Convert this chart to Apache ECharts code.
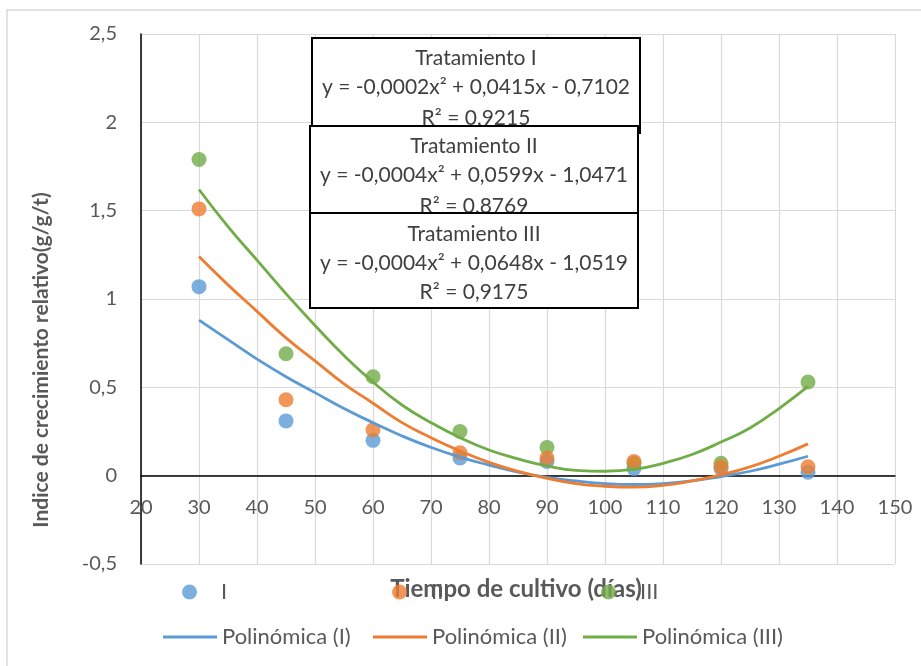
<!DOCTYPE html>
<html><head><meta charset="utf-8">
<script src="https://cdn.jsdelivr.net/npm/echarts@6/dist/echarts.min.js"></script>
<style>html,body{margin:0;padding:0;background:#fff}#c{width:921px;height:666px}</style>
</head><body><div id="c"></div>
<script>
// Observed points (x = días, y = índice)
const daysObs = [30, 45, 60, 75, 90, 105, 120, 135];
const valsI   = [1.07, 0.31, 0.20, 0.10, 0.08, 0.04, 0.04, 0.02];
const valsII  = [1.51, 0.43, 0.26, 0.13, 0.10, 0.08, 0.05, 0.05];
const valsIII = [1.79, 0.69, 0.56, 0.25, 0.16, 0.07, 0.07, 0.53];
// Trendline values
const daysTrend = [30, 35, 40, 45, 50, 55, 60, 65, 70, 75, 80, 85, 90, 95, 100, 105, 110, 115, 120, 125, 130, 135];
const trendI   = [0.88, 0.77, 0.66, 0.56, 0.47, 0.38, 0.30, 0.225, 0.16, 0.105, 0.06, 0.02, -0.01, -0.03, -0.045, -0.05, -0.045, -0.03, -0.005, 0.025, 0.065, 0.11];
const trendII  = [1.24, 1.08, 0.93, 0.78, 0.65, 0.52, 0.41, 0.30, 0.215, 0.14, 0.075, 0.025, -0.015, -0.045, -0.06, -0.065, -0.055, -0.03, 0.005, 0.05, 0.11, 0.18];
const trendIII = [1.62, 1.41, 1.22, 1.03, 0.85, 0.68, 0.53, 0.40, 0.30, 0.215, 0.145, 0.095, 0.055, 0.03, 0.025, 0.035, 0.07, 0.12, 0.19, 0.27, 0.38, 0.505];
const seriesNames = ['I', 'II', 'III'];
const trendNames = ['Polinómica (I)', 'Polinómica (II)', 'Polinómica (III)'];
const boxTexts = [
  ['Tratamiento I', 'y = -0,0002x² + 0,0415x - 0,7102', 'R² = 0,9215'],
  ['Tratamiento II', 'y = -0,0004x² + 0,0599x - 1,0471', 'R² = 0,8769'],
  ['Tratamiento III', 'y = -0,0004x² + 0,0648x - 1,0519', 'R² = 0,9175']
];
const xTitle = 'Tiempo de cultivo (días)';
const yTitle = 'Indice de crecimiento relativo(g/g/t)';

const colors = ['#5B9BD5', '#ED7D31', '#70AD47'];
const FONT = 'Lato';
const pair = (xs, ys) => xs.map((x, i) => [x, ys[i]]);

const chart = echarts.init(document.getElementById('c'));

const boxes = [
  {x: 312, y: 38, w: 328, h: 95, cx: 476, ly: [58, 87, 118]},
  {x: 310, y: 126, w: 328, h: 87, cx: 474, ly: [146, 175, 206]},
  {x: 310, y: 213, w: 328, h: 95, cx: 474, ly: [234, 263, 292]}
];
const graphics = [{
  type: 'rect', z: 0, silent: true,
  shape: {x: 7, y: 10, width: 1000, height: 1000},
  style: {fill: 'none', stroke: '#d9d9d9', lineWidth: 1.5}
}];
boxes.forEach((b, bi) => {
  graphics.push({type: 'rect', z: 20 + bi * 2, shape: {x: b.x, y: b.y, width: b.w, height: b.h},
    style: {fill: '#fff', stroke: '#000', lineWidth: 2}});
  boxTexts[bi].forEach((t, li) => {
    graphics.push({type: 'text', z: 21 + bi * 2, x: b.cx, y: b.ly[li],
      style: {text: t, font: '21px ' + FONT, fill: '#404040', textAlign: 'center', textVerticalAlign: 'middle'}});
  });
});
graphics.push({type: 'text', z: 1, x: 516, y: 589,
  style: {text: xTitle, font: 'bold 24px ' + FONT, fill: '#595959', textAlign: 'center', textVerticalAlign: 'middle'}});
graphics.push({type: 'text', z: 1, x: 41, y: 360, rotation: Math.PI / 2,
  style: {text: yTitle, font: 'bold 21px ' + FONT, fill: '#595959', textAlign: 'center', textVerticalAlign: 'middle'}});

const legendText = {fontFamily: FONT, fontSize: 22, color: '#595959', lineHeight: 26};
const legends = [];
const scatterLeft = [182, 392, 601];
scatterLeft.forEach((l, i) => legends.push({
  data: [seriesNames[i]], left: l, top: 579, padding: 0, icon: 'circle', itemWidth: 15, itemHeight: 15,
  textStyle: Object.assign({padding: [0, 0, 0, 19]}, legendText), selectedMode: false
}));
const lineLeft = [163, 373, 583];
lineLeft.forEach((l, i) => legends.push({
  data: [trendNames[i]], left: l, top: 624, padding: 0, icon: 'rect', itemWidth: 54, itemHeight: 3,
  textStyle: legendText, selectedMode: false
}));

const series = [];
const obs = [valsI, valsII, valsIII];
const trs = [trendI, trendII, trendIII];
[0, 2, 1].forEach(i => series.push({
  name: seriesNames[i], type: 'scatter', symbol: 'circle', symbolSize: 15, z: 3 + (i === 1 ? 1 : 0),
  itemStyle: {color: colors[i]}, data: pair(daysObs, obs[i])
}));
[0, 1, 2].forEach(i => series.push({
  name: trendNames[i], type: 'line', smooth: true, showSymbol: false, symbol: 'none', z: 6,
  lineStyle: {color: colors[i], width: 2.8}, itemStyle: {color: colors[i]},
  data: pair(daysTrend, trs[i])
}));

chart.setOption({
  animation: false,
  backgroundColor: '#fff',
  grid: {left: 141, right: 26, top: 34, bottom: 102, containLabel: false},
  xAxis: {
    type: 'value', min: 20, max: 150, interval: 10, position: 'bottom', offset: -88.33,
    axisLine: {show: true, onZero: false, lineStyle: {color: '#000', width: 1.5}},
    axisTick: {show: false},
    axisLabel: {fontFamily: FONT, fontSize: 20, color: '#595959', margin: 22},
    splitLine: {show: true, lineStyle: {color: '#d9d9d9', width: 1.2}}
  },
  yAxis: {
    type: 'value', min: -0.5, max: 2.5, interval: 0.5,
    axisLine: {show: true, onZero: false, lineStyle: {color: '#000', width: 1.5}},
    axisTick: {show: false},
    axisLabel: {fontFamily: FONT, fontSize: 20, color: '#595959', margin: 24,
      formatter: v => String(v).replace('.', ',')},
    splitLine: {show: true, lineStyle: {color: '#d9d9d9', width: 1.2}}
  },
  legend: legends,
  graphic: graphics,
  series: series
});
</script></body></html>
